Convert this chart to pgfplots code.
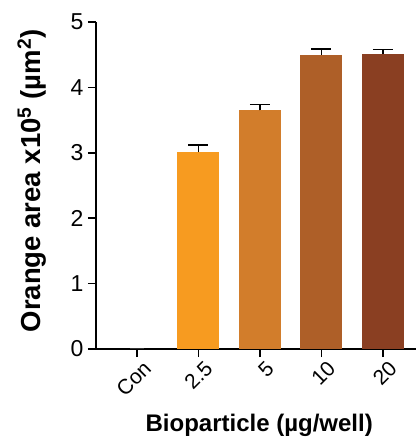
\documentclass[border=0pt]{standalone}
\usepackage{pgfplots}
\pgfplotsset{compat=1.18}
\usepackage{fontspec}
\setmainfont{Liberation Sans}
\definecolor{c1}{HTML}{F79B20}
\definecolor{c2}{HTML}{D27D2B}
\definecolor{c3}{HTML}{AE5F28}
\definecolor{c4}{HTML}{8A3F22}
\pgfplotsset{myerr/.style={
  error bars/.cd, y dir=plus, y explicit,
  error bar style={line width=1.5pt, black},
  error mark options={rotate=90, line width=1.5pt, mark size=10pt, black}}}
\begin{document}
\begin{tikzpicture}
\useasboundingbox (-96pt,-90pt) rectangle (321pt,349pt);
\begin{axis}[
  at={(0pt,0pt)}, anchor=south west,
  scale only axis, width=320pt, height=327pt,
  xmin=-0.667, xmax=4.54, ymin=0, ymax=5,
  axis lines*=left,
  axis line style={line width=1.5pt},
  xtick={0,1,2,3,4},
  xticklabels={Con,2.5,5,10,20},
  ytick={0,1,2,3,4,5},
  tick align=outside,
  tick style={line width=1.5pt, black},
  major tick length=8pt,
  /pgf/number format/assume math mode=true,
  yticklabel style={font=\fontsize{23}{25}\selectfont, xshift=-1pt},
  xticklabel style={font=\fontsize{21}{23}\selectfont, rotate=45, anchor=north east, xshift=5pt, yshift=-2pt},
  xlabel={\textbf{Bioparticle (µg/well)}},
  ylabel={\textbf{Orange area x10\textsuperscript{5} (µm\textsuperscript{2})}},
  xlabel style={font=\fontsize{24}{26}\selectfont, at={(axis description cs:0.51,0)}, anchor=north, yshift=-62pt},
  ylabel style={font=\fontsize{27.5}{29}\selectfont, at={(axis description cs:0,0.514)}, anchor=north, yshift=82pt},
  clip=false,
]
\addplot[ybar, bar width=42pt, bar shift=0pt, fill=c1, draw=none, myerr]
  coordinates {(1,3.01) +- (0,0.11)};
\addplot[ybar, bar width=42pt, bar shift=0pt, fill=c2, draw=none, myerr]
  coordinates {(2,3.65) +- (0,0.09)};
\addplot[ybar, bar width=42pt, bar shift=0pt, fill=c3, draw=none, myerr]
  coordinates {(3,4.50) +- (0,0.09)};
\addplot[ybar, bar width=42pt, bar shift=0pt, fill=c4, draw=none, myerr]
  coordinates {(4,4.51) +- (0,0.07)};
\addplot[ybar, bar width=14pt, bar shift=0pt, fill=black, draw=none,
  error bars/.cd, y dir=plus, y explicit,
  error bar style={line width=1pt, black!80},
  error mark options={rotate=90, line width=1pt, mark size=7pt, black!80}]
  coordinates {(0,0) +- (0,0.012)};
\end{axis}
\end{tikzpicture}
\end{document}
